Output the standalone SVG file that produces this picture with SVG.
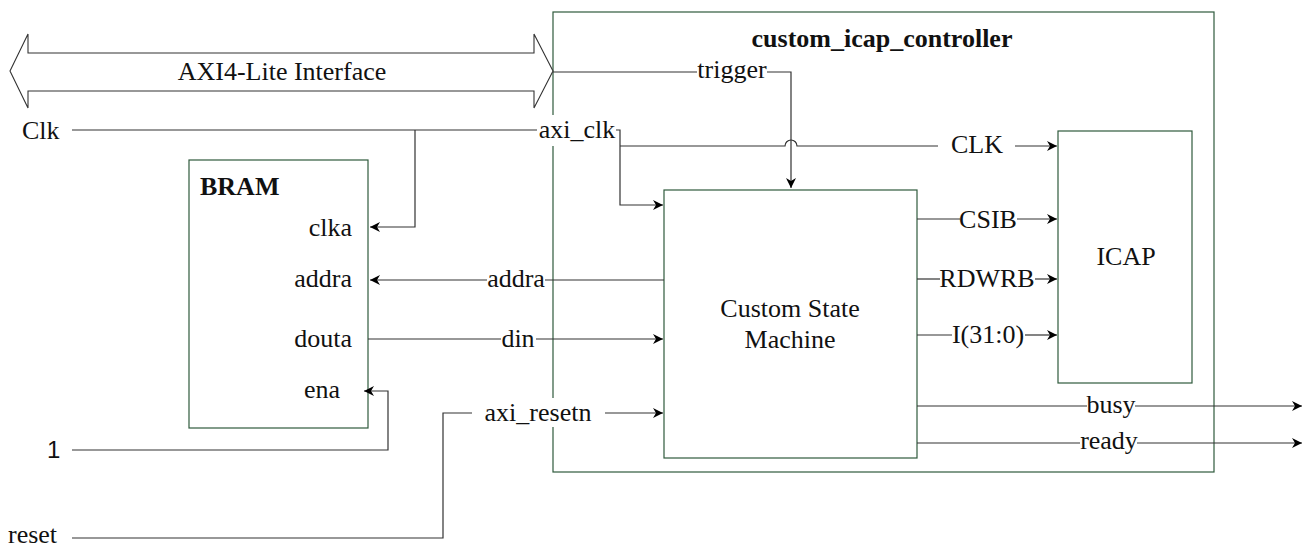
<svg xmlns="http://www.w3.org/2000/svg" width="1308" height="549" viewBox="0 0 1308 549" font-family="'Liberation Serif', 'Times New Roman', serif" font-size="26" fill="#111">
<style>
.box{fill:#fff;stroke:#2f5a3c;stroke-width:1.2}
.w{fill:none;stroke:#333;stroke-width:1.2}
.b{font-weight:bold}
.bg{fill:#fff;stroke:none}
.m{text-anchor:middle}
.e{text-anchor:end}
</style>
<defs>
<marker id="ar" markerWidth="12" markerHeight="10" refX="10" refY="5" orient="auto" markerUnits="userSpaceOnUse">
<path d="M0,0 L10,5 L0,10 L3,5 Z" fill="#000" stroke="none"/>
</marker>
</defs>
<g id="controller">
<rect class="box" x="553" y="12" width="661" height="460"/>
<text class="b m" x="882" y="47">custom_icap_controller</text>
</g>
<g id="axi">
<path d="M10,71 L28,34 L28,53 L534,53 L534,34 L553,71 L534,108 L534,91 L28,91 L28,108 Z" fill="#fff" stroke="#333" stroke-width="1.1"/>
<text class="m" x="282" y="80">AXI4-Lite Interface</text>
</g>
<g id="bram">
<rect class="box" x="189" y="160" width="179" height="268"/>
<text class="b" x="200" y="195">BRAM</text>
<text class="e" x="352" y="236">clka</text>
<text class="e" x="352" y="287">addra</text>
<text class="e" x="352" y="347">douta</text>
<text class="e" x="340" y="398">ena</text>
</g>
<g id="csm">
<rect class="box" x="664" y="190" width="253" height="268"/>
<text class="m" x="790" y="317">Custom State</text>
<text class="m" x="790" y="348">Machine</text>
</g>
<g id="icap">
<rect class="box" x="1058" y="131" width="134" height="252"/>
<text class="m" x="1126" y="265">ICAP</text>
</g>
<g id="inputs">
<text x="22" y="139">Clk</text>
<text x="47" y="458" font-family="'Liberation Sans', Arial, sans-serif" font-size="24">1</text>
<text x="8" y="543">reset</text>
</g>
<g id="connectors">
<path class="w" d="M72,130 L537,130"/>
<path class="w" d="M415,130 L415,227 L370,227" marker-end="url(#ar)"/>
<path class="w" d="M616,130 L620,130 L620,205 L663,205" marker-end="url(#ar)"/>
<path class="w" d="M620,146 L785,146 A6,6 0 0 1 797,146 L938,146"/>
<path class="w" d="M1015,146 L1057,146" marker-end="url(#ar)"/>
<path class="w" d="M553,72 L697,72"/>
<path class="w" d="M767,72 L791,72 L791,188" marker-end="url(#ar)"/>
<path class="w" d="M664,280 L545,280"/>
<path class="w" d="M487,280 L370,280" marker-end="url(#ar)"/>
<path class="w" d="M368,339 L501,339"/>
<path class="w" d="M536,339 L663,339" marker-end="url(#ar)"/>
<path class="w" d="M72,450 L388,450 L388,391 L364,391" marker-end="url(#ar)"/>
<path class="w" d="M72,538 L443,538 L443,413 L472,413"/>
<path class="w" d="M605,413 L663,413" marker-end="url(#ar)"/>
<path class="w" d="M917,219 L960,219"/>
<path class="w" d="M1017,219 L1057,219" marker-end="url(#ar)"/>
<path class="w" d="M917,279 L940,279"/>
<path class="w" d="M1035,279 L1057,279" marker-end="url(#ar)"/>
<path class="w" d="M917,335 L952,335"/>
<path class="w" d="M1025,335 L1057,335" marker-end="url(#ar)"/>
<path class="w" d="M917,406 L1087,406"/>
<path class="w" d="M1135,406 L1302,406" marker-end="url(#ar)"/>
<path class="w" d="M917,443 L1080,443"/>
<path class="w" d="M1137,443 L1302,443" marker-end="url(#ar)"/>
<rect class="bg" x="538" y="115" width="78" height="31"/>
<text class="m" x="577" y="138">axi_clk</text>
<rect class="bg" x="483" y="398" width="111" height="29"/>
<text class="m" x="538" y="421">axi_resetn</text>
<text class="m" x="732" y="78">trigger</text>
<text class="m" x="516" y="287">addra</text>
<text class="m" x="518" y="347">din</text>
<text class="m" x="977" y="153">CLK</text>
<text class="m" x="988" y="228">CSIB</text>
<text class="m" x="987" y="287">RDWRB</text>
<text class="m" x="988" y="343">I(31:0)</text>
<text class="m" x="1111" y="413">busy</text>
<text class="m" x="1109" y="449">ready</text>
</g>
</svg>
